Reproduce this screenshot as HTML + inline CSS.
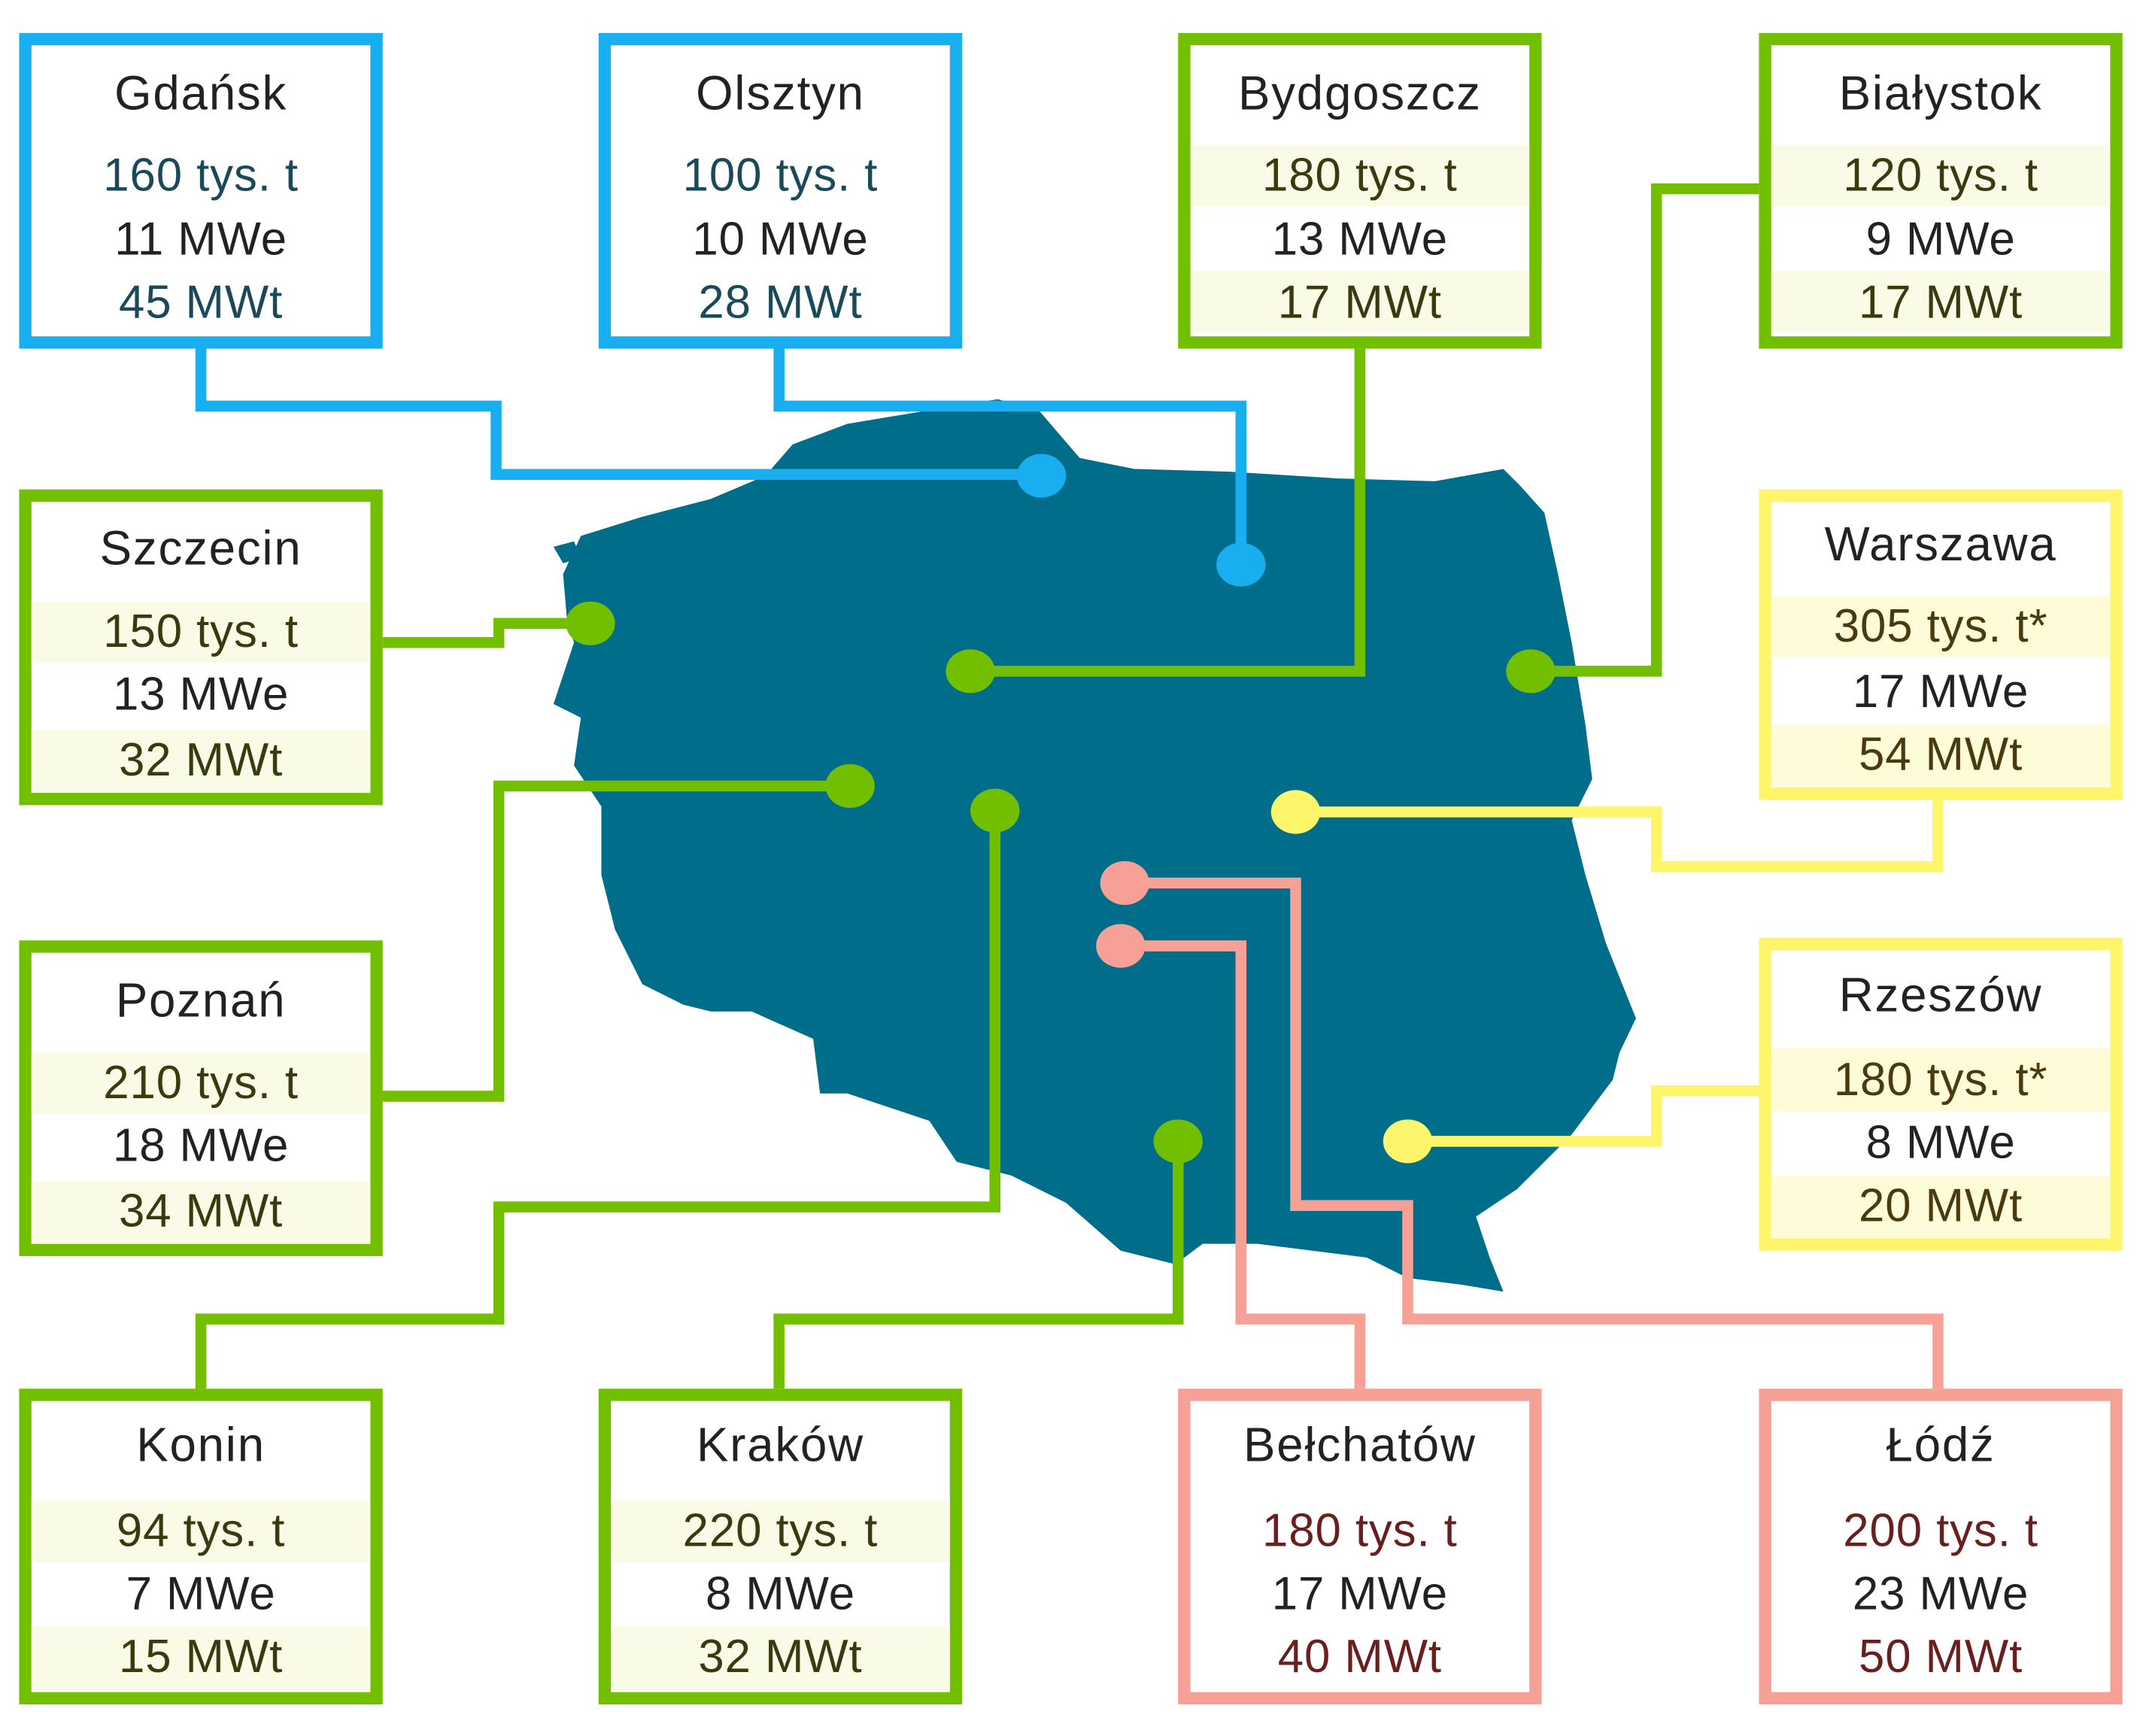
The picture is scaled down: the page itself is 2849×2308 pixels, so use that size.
<!DOCTYPE html>
<html><head><meta charset="utf-8"><style>
html,body{margin:0;padding:0;background:#fff;}
svg{display:block}
text{font-family:"Liberation Sans",sans-serif;font-size:34px;text-anchor:middle;dominant-baseline:central;fill:#222;letter-spacing:0.5px}
.t{font-size:35px;letter-spacing:1px}
text.b{fill:#1a4a5a}
text.g{fill:#3a3a10}
text.y{fill:#4a3a10}
text.r{fill:#6a1f1f}
</style></head><body>
<svg width="2849" height="2308" viewBox="0 0 1568 1270" xmlns="http://www.w3.org/2000/svg">
<rect width="1568" height="1270" fill="#fff"/>
<polygon fill="#006e8a" points="425,392 470,378 520,365 560,348 580,325 620,310 680,300 730,292 760,300 790,335 830,343 900,345 980,350 1050,352 1100,343 1112,355 1130,375 1140,420 1150,470 1160,530 1165,570 1150,600 1160,640 1175,690 1197,745 1185,770 1180,790 1150,830 1110,870 1080,890 1090,920 1100,945 1070,940 1030,935 1000,920 960,915 920,910 880,910 860,925 820,915 780,880 740,860 700,850 680,820 620,800 600,800 595,760 550,740 520,740 500,735 470,720 450,680 440,640 440,590 420,560 425,525 405,515 420,470 415,455 412,420"/>
<polygon fill="#006e8a" points="405,400 420,396 425,408 412,412"/>
<g fill="none" stroke-width="8" stroke-linejoin="miter">
<polyline stroke="#19aef0" points="147,255 147,297 363,297 363,347 762,347"/>
<polyline stroke="#19aef0" points="570,255 570,297 908,297 908,413"/>
<polyline stroke="#72bf00" points="995,255 995,491 710,491"/>
<polyline stroke="#72bf00" points="1287,138 1212,138 1212,491 1120,491"/>
<polyline stroke="#72bf00" points="280,470 365,470 365,456 432,456"/>
<polyline stroke="#72bf00" points="280,802 365,802 365,575 622,575"/>
<polyline stroke="#72bf00" points="147,1016 147,965 365,965 365,883 728,883 728,593"/>
<polyline stroke="#72bf00" points="570,1016 570,965 862,965 862,835"/>
<polyline stroke="#fdf56a" points="1418,583 1418,634 1212,634 1212,594 948,594"/>
<polyline stroke="#fdf56a" points="1287,798 1212,798 1212,835 1030,835"/>
<polyline stroke="#f7a095" points="820,692 908,692 908,965 995,965 995,1016"/>
<polyline stroke="#f7a095" points="823,646 948,646 948,882 1030,882 1030,965 1418,965 1418,1016"/>
</g>
<g>
<ellipse cx="762" cy="348" rx="18" ry="16" fill="#19aef0"/>
<ellipse cx="908" cy="413" rx="18" ry="16" fill="#19aef0"/>
<ellipse cx="710" cy="491" rx="18" ry="16" fill="#72bf00"/>
<ellipse cx="1120" cy="491" rx="18" ry="16" fill="#72bf00"/>
<ellipse cx="432" cy="456" rx="18" ry="16" fill="#72bf00"/>
<ellipse cx="622" cy="575" rx="18" ry="16" fill="#72bf00"/>
<ellipse cx="728" cy="593" rx="18" ry="16" fill="#72bf00"/>
<ellipse cx="862" cy="835" rx="18" ry="16" fill="#72bf00"/>
<ellipse cx="948" cy="594" rx="18" ry="16" fill="#fdf56a"/>
<ellipse cx="1030" cy="835" rx="18" ry="16" fill="#fdf56a"/>
<ellipse cx="820" cy="692" rx="18" ry="16" fill="#f7a095"/>
<ellipse cx="823" cy="646" rx="18" ry="16" fill="#f7a095"/>
</g>
<g>
<rect x="18.5" y="28.5" width="257" height="222" fill="#fff" stroke="#19aef0" stroke-width="9"/>
<text x="147" y="68" class="t">Gdańsk</text>
<text x="147" y="128" class="b">160 tys. t</text>
<text x="147" y="175">11 MWe</text>
<text x="147" y="221" class="b">45 MWt</text>

<rect x="442.5" y="28.5" width="257" height="222" fill="#fff" stroke="#19aef0" stroke-width="9"/>
<text x="571" y="68" class="t">Olsztyn</text>
<text x="571" y="128" class="b">100 tys. t</text>
<text x="571" y="175">10 MWe</text>
<text x="571" y="221" class="b">28 MWt</text>

<rect x="866.5" y="28.5" width="257" height="222" fill="#fff" stroke="#72bf00" stroke-width="9"/>
<rect x="871" y="106" width="248" height="45" fill="#fafbe6"/><rect x="871" y="198" width="248" height="45" fill="#fafbe6"/>
<text x="995" y="68" class="t">Bydgoszcz</text>
<text x="995" y="128" class="g">180 tys. t</text>
<text x="995" y="175">13 MWe</text>
<text x="995" y="221" class="g">17 MWt</text>

<rect x="1291.5" y="28.5" width="257" height="222" fill="#fff" stroke="#72bf00" stroke-width="9"/>
<rect x="1296" y="106" width="248" height="45" fill="#fafbe6"/><rect x="1296" y="198" width="248" height="45" fill="#fafbe6"/>
<text x="1420" y="68" class="t">Białystok</text>
<text x="1420" y="128" class="g">120 tys. t</text>
<text x="1420" y="175">9 MWe</text>
<text x="1420" y="221" class="g">17 MWt</text>

<rect x="18.5" y="362.5" width="257" height="222" fill="#fff" stroke="#72bf00" stroke-width="9"/>
<rect x="23" y="440" width="248" height="45" fill="#fafbe6"/><rect x="23" y="534" width="248" height="46" fill="#fafbe6"/>
<text x="147" y="401" class="t">Szczecin</text>
<text x="147" y="462" class="g">150 tys. t</text>
<text x="147" y="508">13 MWe</text>
<text x="147" y="556" class="g">32 MWt</text>

<rect x="1291.5" y="362.5" width="257" height="218" fill="#fff" stroke="#fdf56a" stroke-width="9"/>
<rect x="1296" y="436" width="248" height="45" fill="#fdfbd8"/><rect x="1296" y="530" width="248" height="46" fill="#fdfbd8"/>
<text x="1420" y="398" class="t">Warszawa</text>
<text x="1420" y="458" class="y">305 tys. t*</text>
<text x="1420" y="506">17 MWe</text>
<text x="1420" y="552" class="y">54 MWt</text>

<rect x="18.5" y="692.5" width="257" height="222" fill="#fff" stroke="#72bf00" stroke-width="9"/>
<rect x="23" y="770" width="248" height="45" fill="#fafbe6"/><rect x="23" y="864" width="248" height="46" fill="#fafbe6"/>
<text x="147" y="732" class="t">Poznań</text>
<text x="147" y="792" class="g">210 tys. t</text>
<text x="147" y="838">18 MWe</text>
<text x="147" y="886" class="g">34 MWt</text>

<rect x="1291.5" y="690.5" width="257" height="220" fill="#fff" stroke="#fdf56a" stroke-width="9"/>
<rect x="1296" y="767" width="248" height="46" fill="#fdfbd8"/><rect x="1296" y="860" width="248" height="46" fill="#fdfbd8"/>
<text x="1420" y="728" class="t">Rzeszów</text>
<text x="1420" y="790" class="y">180 tys. t*</text>
<text x="1420" y="836">8 MWe</text>
<text x="1420" y="882" class="y">20 MWt</text>

<rect x="18.5" y="1020.5" width="257" height="222" fill="#fff" stroke="#72bf00" stroke-width="9"/>
<rect x="23" y="1098" width="248" height="45" fill="#fafbe6"/><rect x="23" y="1190" width="248" height="48" fill="#fafbe6"/>
<text x="147" y="1057" class="t">Konin</text>
<text x="147" y="1120" class="g">94 tys. t</text>
<text x="147" y="1166">7 MWe</text>
<text x="147" y="1212" class="g">15 MWt</text>

<rect x="442.5" y="1020.5" width="257" height="222" fill="#fff" stroke="#72bf00" stroke-width="9"/>
<rect x="447" y="1098" width="248" height="45" fill="#fafbe6"/><rect x="447" y="1190" width="248" height="48" fill="#fafbe6"/>
<text x="571" y="1057" class="t">Kraków</text>
<text x="571" y="1120" class="g">220 tys. t</text>
<text x="571" y="1166">8 MWe</text>
<text x="571" y="1212" class="g">32 MWt</text>

<rect x="866.5" y="1020.5" width="257" height="222" fill="#fff" stroke="#f7a095" stroke-width="9"/>
<text x="995" y="1057" class="t">Bełchatów</text>
<text x="995" y="1120" class="r">180 tys. t</text>
<text x="995" y="1166">17 MWe</text>
<text x="995" y="1212" class="r">40 MWt</text>

<rect x="1291.5" y="1020.5" width="257" height="222" fill="#fff" stroke="#f7a095" stroke-width="9"/>
<text x="1420" y="1057" class="t">Łódź</text>
<text x="1420" y="1120" class="r">200 tys. t</text>
<text x="1420" y="1166">23 MWe</text>
<text x="1420" y="1212" class="r">50 MWt</text>
</g>
</svg>
</body></html>
